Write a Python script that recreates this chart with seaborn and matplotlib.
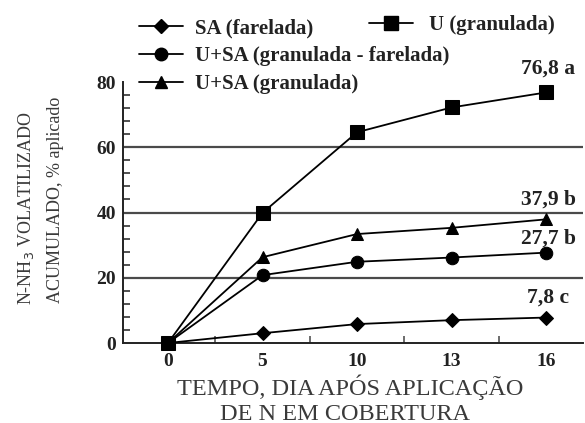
import numpy as np
import pandas as pd
import seaborn as sns
import matplotlib
matplotlib.use("Agg")
import matplotlib.pyplot as plt
from matplotlib.ticker import FixedLocator, MultipleLocator
from matplotlib.lines import Line2D

# Sampling days (evenly spaced categories on the x axis)
days = ["0", "5", "10", "13", "16"]

# Cumulative N-NH3 volatilised, % of applied N
sa_farelada = [0.0, 3.0, 5.8, 7.0, 7.8]
u_granulada = [0.0, 39.9, 64.6, 72.2, 76.8]
usa_gran_far = [0.0, 20.8, 24.9, 26.2, 27.7]
usa_granulada = [0.0, 26.3, 33.4, 35.3, 37.9]

series_names = ["SA (farelada)", "U (granulada)",
                "U+SA (granulada - farelada)", "U+SA (granulada)"]
final_letters = ["c", "a", "b", "b"]

sns.set_theme(style="white")
plt.rcParams["font.family"] = ["Liberation Serif", "DejaVu Serif"]

pos = np.arange(len(days))
df = pd.concat([
    pd.DataFrame({"pos": pos, "valor": vals, "fonte": name})
    for name, vals in zip(series_names,
                          [sa_farelada, u_granulada, usa_gran_far, usa_granulada])
])

fig = plt.figure(figsize=(5.85, 4.23), dpi=100)
ax = fig.add_axes([123 / 585, 1 - 343 / 423, (583 - 123) / 585, (343 - 82) / 423])

markers = {"SA (farelada)": "D", "U (granulada)": "s",
           "U+SA (granulada - farelada)": "o", "U+SA (granulada)": "^"}
msizes = {"SA (farelada)": 7, "U (granulada)": 9.5,
          "U+SA (granulada - farelada)": 9, "U+SA (granulada)": 9}
zorders = {"SA (farelada)": 3, "U+SA (granulada - farelada)": 4,
           "U+SA (granulada)": 5, "U (granulada)": 6}

for name in ["SA (farelada)", "U+SA (granulada - farelada)",
             "U+SA (granulada)", "U (granulada)"]:
    sub = df[df["fonte"] == name]
    sns.lineplot(data=sub, x="pos", y="valor", ax=ax, color="black",
                 linewidth=1.3, marker=markers[name], markersize=msizes[name],
                 markeredgecolor="black", markerfacecolor="black",
                 zorder=zorders[name], clip_on=False, legend=False)

# horizontal reference lines
for yv in [20, 40, 60]:
    ax.axhline(yv, color="#4a4a4a", linewidth=1.6, zorder=1)

ax.set_xlim(-0.476, 4.39)
ax.set_ylim(0, 80)
ax.set_xticks(pos)
ax.set_xticklabels(days)
ax.xaxis.set_minor_locator(FixedLocator(pos[:-1] + 0.5))
ax.set_yticks([0, 20, 40, 60, 80])
ax.yaxis.set_minor_locator(MultipleLocator(4))

for s in ["top", "right"]:
    ax.spines[s].set_visible(False)
for s in ["left", "bottom"]:
    ax.spines[s].set_color("#222222")
    ax.spines[s].set_linewidth(1.4)

ax.tick_params(axis="y", which="major", direction="in", length=6, width=1.2,
               color="#222222", labelsize=14, pad=5)
ax.tick_params(axis="y", which="minor", direction="in", length=5, width=1.1,
               color="#222222", left=True)
ax.tick_params(axis="x", which="major", direction="inout", length=5, width=1.0,
               color="#444444", labelsize=14, pad=5)
ax.tick_params(axis="x", which="minor", direction="in", length=5, width=1.1,
               color="#444444", bottom=True)
for lab in ax.get_xticklabels() + ax.get_yticklabels():
    lab.set_fontweight("bold")
    lab.set_color("#222222")

ax.set_xlabel("")
ax.set_ylabel("")

# final values with significance letters
offsets = [14.5, 17, 10, 14]
for name, vals, letter, off in zip(series_names,
                                   [sa_farelada, u_granulada, usa_gran_far, usa_granulada],
                                   final_letters, offsets):
    label = f"{vals[-1]:.1f}".replace(".", ",") + " " + letter
    ax.annotate(label, xy=(pos[-1], vals[-1]), xytext=(1.5, off),
                textcoords="offset points", ha="center", va="center",
                fontsize=15.5, fontweight="bold", color="#222222",
                annotation_clip=False)

# axis titles
fig.text(350 / 585, 1 - 387 / 423, "TEMPO, DIA APÓS APLICAÇÃO",
         ha="center", va="center", fontsize=17.5, color="#3a3a3a")
fig.text(345 / 585, 1 - 414 / 423, "DE N EM COBERTURA",
         ha="center", va="center", fontsize=17.5, color="#3a3a3a")
fig.text(26 / 585, 1 - 208 / 423, "N-NH$_3$ VOLATILIZADO",
         ha="center", va="center", rotation=90, fontsize=13, color="#3a3a3a")
fig.text(56 / 585, 1 - 200 / 423, "ACUMULADO, % aplicado",
         ha="center", va="center", rotation=90, fontsize=13, color="#3a3a3a")

def handle(name):
    return Line2D([], [], color="black", linewidth=1.3, marker=markers[name],
                  markersize=msizes[name], markerfacecolor="black",
                  markeredgecolor="black")

left_names = ["SA (farelada)", "U+SA (granulada - farelada)", "U+SA (granulada)"]
leg1 = fig.legend([handle(n) for n in left_names], left_names,
                  loc="upper left", bbox_to_anchor=(139 / 585, 1 - 18 / 423),
                  frameon=False, borderpad=0, borderaxespad=0,
                  handlelength=2.1, handletextpad=0.6, labelspacing=0.38,
                  prop={"size": 15, "weight": "bold"})
leg2 = fig.legend([handle("U (granulada)")], ["U (granulada)"],
                  loc="upper left", bbox_to_anchor=(369 / 585, 1 - 15 / 423),
                  frameon=False, borderpad=0, borderaxespad=0,
                  handlelength=2.1, handletextpad=0.8,
                  prop={"size": 15, "weight": "bold"})
for lg in (leg1, leg2):
    for t in lg.get_texts():
        t.set_color("#222222")

fig.savefig("out.png", dpi=100, facecolor="white")
